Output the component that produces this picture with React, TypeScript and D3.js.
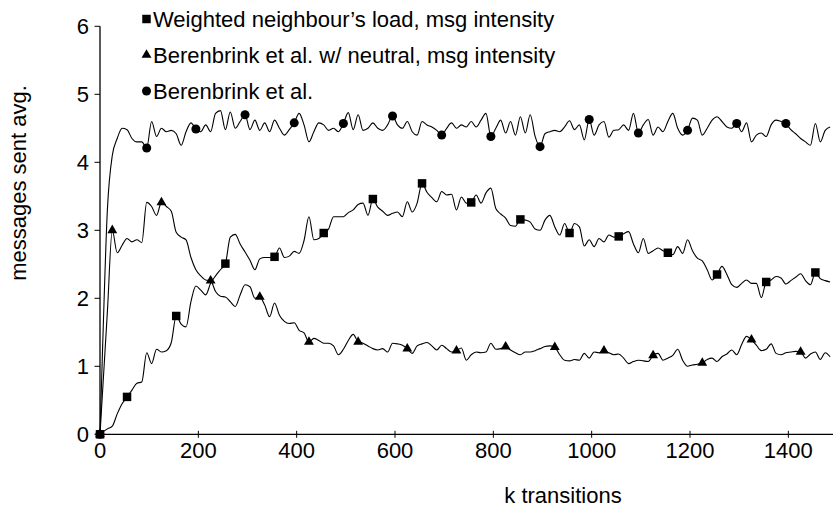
import React from "react";
import * as d3 from "d3";

// k transitions grid: 0, then 5, 15, 25, ... 1485
const kValues: number[] = [0, ...d3.range(5, 1490, 10)];

const seriesNames = [
  "Weighted neighbour\u2019s load, msg intensity",
  "Berenbrink et al. w/ neutral, msg intensity",
  "Berenbrink et al.",
];

// Weighted neighbour's load (squares)
const weighted: number[] = [
  0, 0.03, 0.08, 0.12, 0.3, 0.45, 0.55, 0.65, 0.75, 0.77,
  1.2, 1.04, 1.25, 1.21, 1.23, 1.35, 1.74, 1.62, 1.58, 1.95,
  2.18, 2.12, 2.05, 2.22, 2.33, 2.42, 2.51, 2.9, 2.94, 2.8,
  2.68, 2.56, 2.42, 2.58, 2.6, 2.6, 2.61, 2.74, 2.6, 2.62,
  2.69, 2.66, 2.85, 3.2, 2.86, 2.88, 2.96, 3.02, 3.2, 3.2,
  3.2, 3.26, 3.3, 3.38, 3.4, 3.22, 3.46, 3.34, 3.28, 3.22,
  3.25, 3.27, 3.2, 3.42, 3.27, 3.4, 3.69, 3.56, 3.48, 3.42,
  3.57, 3.52, 3.53, 3.3, 3.49, 3.4, 3.41, 3.52, 3.4, 3.55,
  3.62, 3.32, 3.24, 3.18, 3.07, 3.06, 3.16, 3.15, 3.12, 3.02,
  3.0, 3.15, 3.22, 3.05, 2.93, 3.1, 2.96, 3.1, 3.05, 2.77,
  2.86, 2.76, 2.88, 2.83, 2.93, 2.9, 2.91, 2.95, 2.98, 2.8,
  2.67, 2.88, 2.66, 2.7, 2.74, 2.7, 2.67, 2.64, 2.76, 2.66,
  2.86, 2.7, 2.59, 2.55, 2.42, 2.27, 2.35, 2.47, 2.35, 2.2,
  2.16, 2.22, 2.27, 2.22, 2.22, 2.01, 2.24, 2.27, 2.32, 2.3,
  2.21, 2.26, 2.31, 2.36, 2.26, 2.2, 2.38, 2.29, 2.26, 2.24,
];

// Berenbrink et al. w/ neutral (triangles)
const neutral: number[] = [
  0, 0.6, 1.8, 3.0, 2.67, 2.78, 2.88, 2.83, 2.86, 2.82,
  3.41, 3.35, 3.22, 3.41, 3.35, 3.28, 2.97, 2.9, 2.86, 2.6,
  2.42, 2.33, 2.27, 2.26, 2.1, 2.03, 2.02, 1.95, 1.88, 2.05,
  2.2, 2.17, 2.0, 2.02, 1.9, 1.73, 1.93, 1.75, 1.66, 1.63,
  1.64, 1.53, 1.49, 1.36, 1.41, 1.38, 1.34, 1.34, 1.3, 1.17,
  1.25, 1.38, 1.47, 1.36, 1.34, 1.3, 1.26, 1.24, 1.26, 1.21,
  1.34, 1.33, 1.31, 1.26, 1.19, 1.3, 1.33, 1.35, 1.3, 1.24,
  1.31, 1.26, 1.21, 1.23, 1.27, 1.09, 1.17, 1.21, 1.2, 1.21,
  1.34, 1.25, 1.26, 1.29, 1.24, 1.2, 1.17, 1.21, 1.21, 1.23,
  1.26, 1.29, 1.3, 1.28, 1.17, 1.09, 1.08, 1.1, 1.09, 1.19,
  1.12, 1.21, 1.2, 1.23, 1.2, 1.17, 1.18, 1.12, 1.04, 1.07,
  1.09, 1.08, 1.07, 1.16, 1.19, 1.09, 1.12, 1.16, 1.25, 1.09,
  1.0, 1.02, 1.03, 1.05, 1.1, 1.12, 1.07, 1.14, 1.18, 1.24,
  1.17, 1.32, 1.44, 1.39, 1.31, 1.23, 1.25, 1.33, 1.19, 1.17,
  1.2, 1.21, 1.22, 1.21, 1.12, 1.18, 1.21, 1.1, 1.2, 1.14,
];

// Berenbrink et al. (circles)
const berenbrink: number[] = [
  0, 1.2, 3.3, 4.1, 4.35, 4.5, 4.48, 4.35, 4.3, 4.3,
  4.21, 4.6, 4.38, 4.5, 4.45, 4.47, 4.42, 4.25, 4.45, 4.58,
  4.49, 4.45, 4.55, 4.45, 4.72, 4.76, 4.48, 4.74, 4.5, 4.6,
  4.7, 4.48, 4.62, 4.47, 4.58, 4.45, 4.62, 4.5, 4.4, 4.48,
  4.58, 4.72, 4.55, 4.3, 4.45, 4.58, 4.55, 4.47, 4.5, 4.45,
  4.57, 4.73, 4.48, 4.7, 4.47, 4.5, 4.58, 4.5, 4.47, 4.55,
  4.68, 4.55, 4.5, 4.6, 4.45, 4.4, 4.6, 4.55, 4.52, 4.47,
  4.4, 4.5, 4.58, 4.5, 4.55, 4.52, 4.6, 4.52, 4.62, 4.72,
  4.38, 4.5, 4.62, 4.43, 4.6, 4.4, 4.67, 4.43, 4.7, 4.38,
  4.23, 4.42, 4.45, 4.47, 4.45, 4.52, 4.61, 4.48, 4.55, 4.33,
  4.63, 4.4, 4.55, 4.6, 4.37, 4.47, 4.48, 4.55, 4.47, 4.72,
  4.43, 4.55, 4.63, 4.4, 4.52, 4.45, 4.6, 4.72, 4.5, 4.4,
  4.47, 4.65, 4.62, 4.4, 4.5, 4.62, 4.67, 4.6, 4.52, 4.5,
  4.57, 4.45, 4.58, 4.3, 4.4, 4.43, 4.38, 4.55, 4.62, 4.6,
  4.57, 4.48, 4.42, 4.35, 4.3, 4.25, 4.57, 4.3, 4.47, 4.52,
];

// marker placement: first grid index of the repeating marker, every 10 grid points
const markerStart = [6, 3, 10];
const xTicks = [0, 200, 400, 600, 800, 1000, 1200, 1400];
const yTicks = [0, 1, 2, 3, 4, 5, 6];

const W = 833;
const H = 512;
const FONT = "'Liberation Sans', Arial, sans-serif";

export default function App() {
  const x = d3.scaleLinear().domain([0, 1500]).range([100, 837.5]);
  const y = d3.scaleLinear().domain([0, 6]).range([434.3, 26.3]);

  const allSeries = [weighted, neutral, berenbrink];
  const symbolTypes = [d3.symbolSquare, d3.symbolTriangle, d3.symbolCircle];
  const symbolSizes = [72, 42, 64];

  const line = d3
    .line<number>()
    .x((_, i) => x(kValues[i]))
    .y((d) => y(d))
    .curve(d3.curveMonotoneX);

  const markerIdx = (s: number) => {
    const idx = [0];
    for (let i = markerStart[s]; i < kValues.length; i += 10) idx.push(i);
    return idx;
  };

  return (
    <svg
      width={W}
      height={H}
      style={{ position: "absolute", left: 0, top: 0, background: "#fff" }}
      fontFamily={FONT}
    >
      <rect x={0} y={0} width={W} height={H} fill="#fff" />
      {/* series lines */}
      {allSeries.map((vals, s) => (
        <path key={"l" + s} d={line(vals) || ""} fill="none" stroke="#000" strokeWidth={1.1} />
      ))}
      {/* markers */}
      {allSeries.map((vals, s) => {
        const sym = d3.symbol().type(symbolTypes[s]).size(symbolSizes[s]);
        return markerIdx(s).map((i) => (
          <path
            key={"m" + s + "-" + i}
            d={sym() || ""}
            transform={`translate(${x(kValues[i])},${y(vals[i])})`}
            fill="#000"
          />
        ));
      })}
      {/* axes */}
      <line x1={x(0)} x2={W} y1={y(0)} y2={y(0)} stroke="#000" strokeWidth={1.3} />
      <line x1={x(0)} x2={x(0)} y1={y(0)} y2={y(6)} stroke="#000" strokeWidth={1.3} />
      {xTicks.map((t) => (
        <g key={"xt" + t}>
          <line x1={x(t)} x2={x(t)} y1={y(0) - 3.5} y2={y(0) + 3.5} stroke="#000" strokeWidth={1} />
          <text x={x(t)} y={458} textAnchor="middle" fontSize={22} fill="#000">
            {t}
          </text>
        </g>
      ))}
      {yTicks.map((t) => (
        <g key={"yt" + t}>
          <line x1={x(0) - 5.5} x2={x(0)} y1={y(t)} y2={y(t)} stroke="#000" strokeWidth={1} />
          <text x={89} y={y(t) + 8} textAnchor="end" fontSize={22} fill="#000">
            {t}
          </text>
        </g>
      ))}
      {/* axis titles */}
      <text x={563} y={503} textAnchor="middle" fontSize={22} fill="#000">
        k transitions
      </text>
      <text
        transform="translate(26,183) rotate(-90)"
        textAnchor="middle"
        fontSize={22}
        fill="#000"
      >
        messages sent avg.
      </text>
      {/* legend */}
      {seriesNames.map((name, s) => {
        const sym = d3.symbol().type(symbolTypes[s]).size(symbolSizes[s]);
        const cy = 19 + s * 36;
        return (
          <g key={"lg" + s}>
            <path d={sym() || ""} transform={`translate(146.5,${cy})`} fill="#000" />
            <text x={153} y={cy + 8} fontSize={22} fill="#000">
              {name}
            </text>
          </g>
        );
      })}
    </svg>
  );
}
